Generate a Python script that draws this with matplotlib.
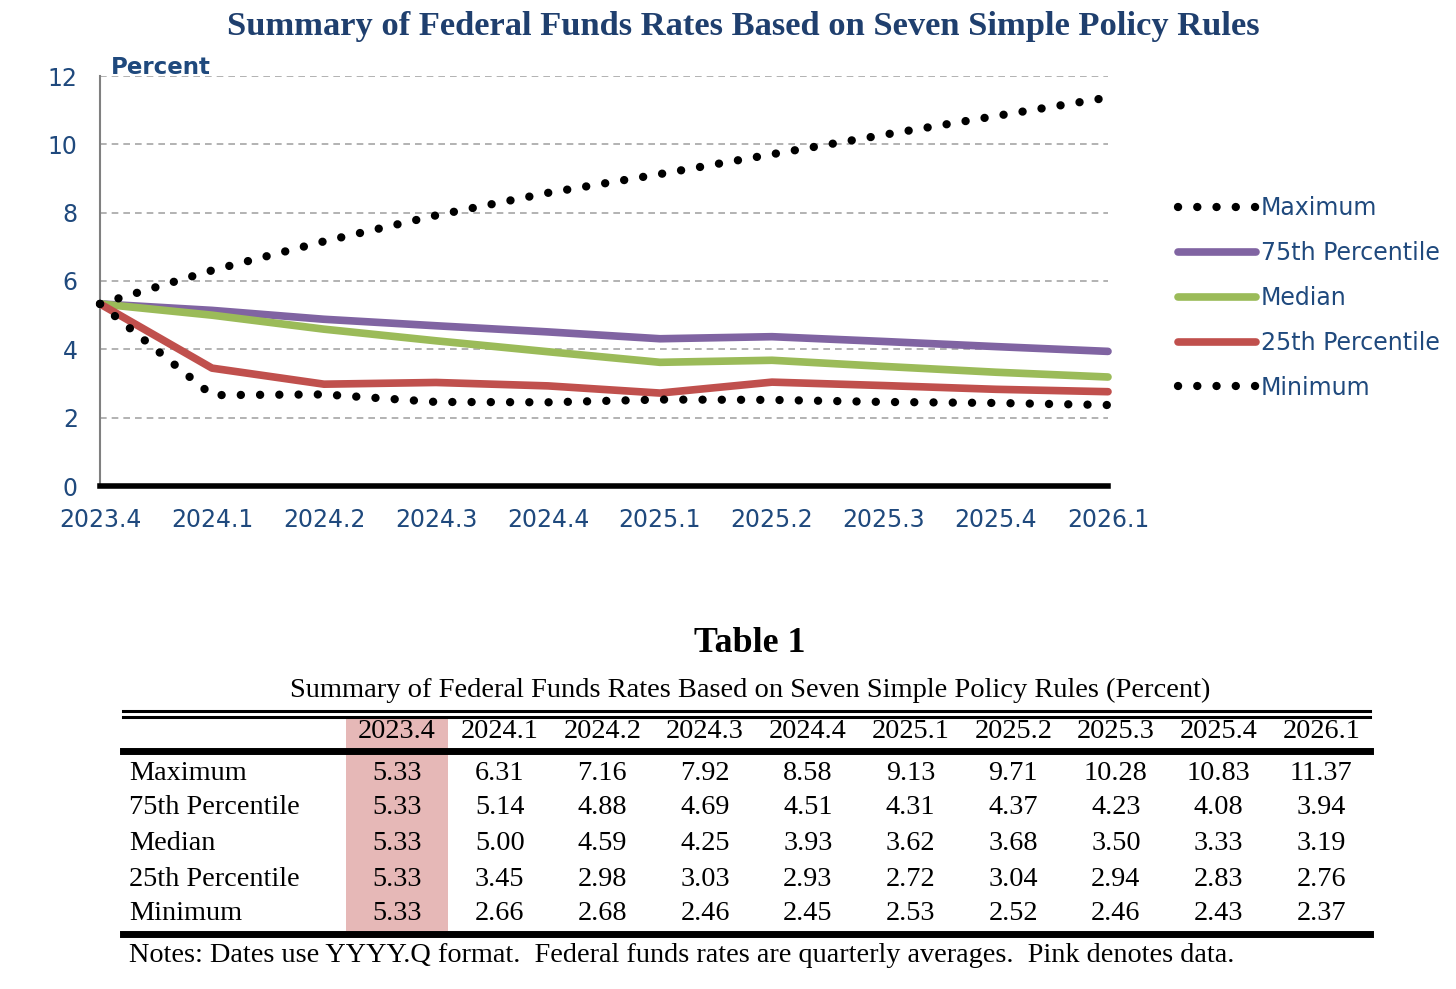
import matplotlib
matplotlib.use("Agg")
import matplotlib.pyplot as plt
from matplotlib.lines import Line2D
from matplotlib.patches import Rectangle

quarters = ["2023.4", "2024.1", "2024.2", "2024.3", "2024.4",
            "2025.1", "2025.2", "2025.3", "2025.4", "2026.1"]
maximum = [5.33, 6.31, 7.16, 7.92, 8.58, 9.13, 9.71, 10.28, 10.83, 11.37]
p75 = [5.33, 5.14, 4.88, 4.69, 4.51, 4.31, 4.37, 4.23, 4.08, 3.94]
median = [5.33, 5.00, 4.59, 4.25, 3.93, 3.62, 3.68, 3.50, 3.33, 3.19]
p25 = [5.33, 3.45, 2.98, 3.03, 2.93, 2.72, 3.04, 2.94, 2.83, 2.76]
minimum = [5.33, 2.66, 2.68, 2.46, 2.45, 2.53, 2.52, 2.46, 2.43, 2.37]
row_names = ["Maximum", "75th Percentile", "Median", "25th Percentile", "Minimum"]
rows = [maximum, p75, median, p25, minimum]

NAVY = "#1F497D"
TITLE = "#1F3F6E"
SANS = "DejaVu Sans"
SERIF = "Liberation Serif"
TFS = 20.3  # table font size

W, H = 1456, 989
fig = plt.figure(figsize=(W / 100, H / 100), dpi=100)


def fx(px):
    return px / W


def fy(py):
    return 1 - py / H


ax = fig.add_axes([fx(100), fy(486), fx(1108) - fx(100), fy(76) - fy(486)])
x = list(range(len(quarters)))
dots = (0, (0.01, 2.3))
ax.plot(x, p75, color="#8064A2", lw=5.5, solid_capstyle="round", label="75th Percentile", zorder=3)
ax.plot(x, median, color="#9BBB59", lw=5.5, solid_capstyle="round", label="Median", zorder=3)
ax.plot(x, p25, color="#C0504D", lw=5.5, solid_capstyle="round", label="25th Percentile", zorder=3)
ax.plot(x, maximum, color="black", lw=6, ls=dots, dash_capstyle="round", label="Maximum", zorder=4)
ax.plot(x, minimum, color="black", lw=6, ls=dots, dash_capstyle="round", label="Minimum", zorder=4)
for ln in ax.lines:
    ln.set_clip_on(False)

ax.set_xlim(0, 9)
ax.set_ylim(0, 12)
ax.set_yticks(range(0, 13, 2))
ax.set_xticks(x)
ax.set_xticklabels(quarters)
ax.tick_params(length=0, labelsize=17, labelcolor=NAVY)
ax.tick_params(axis="x", pad=16)
ax.tick_params(axis="y", pad=16)
for lbl in ax.get_xticklabels() + ax.get_yticklabels():
    lbl.set_family(SANS)
ax.yaxis.grid(True, ls=(0, (4, 3)), color="#A6A6A6", lw=1.2)
ax.set_axisbelow(True)
for s in ["top", "right"]:
    ax.spines[s].set_visible(False)
ax.spines["left"].set_color("#808080")
ax.spines["left"].set_linewidth(1.5)
ax.spines["bottom"].set_color("black")
ax.spines["bottom"].set_linewidth(4)

fig.text(fx(111), fy(67), "Percent", fontsize=16.5, fontweight="bold", color=NAVY,
         family=SANS, va="center", ha="left")
fig.text(fx(743), fy(27), "Summary of Federal Funds Rates Based on Seven Simple Policy Rules",
         fontsize=24.8, fontweight="bold", color=TITLE, family=SERIF, ha="center", va="center")

h, l = ax.get_legend_handles_labels()
order = [3, 0, 1, 2, 4]
leg = fig.legend([h[i] for i in order], [l[i] for i in order], loc="center left",
                 bbox_to_anchor=(fx(1178), fy(298)), frameon=False, fontsize=17,
                 handlelength=3.3, handletextpad=0.22, labelspacing=0.88,
                 borderpad=0, borderaxespad=0)
for t in leg.get_texts():
    t.set_color(NAVY)
    t.set_family(SANS)

# Table 1
fig.text(fx(750), fy(643), "Table 1", fontsize=25.8, fontweight="bold", family=SERIF,
         ha="center", va="center")
fig.text(fx(750), fy(690),
         "Summary of Federal Funds Rates Based on Seven Simple Policy Rules (Percent)",
         fontsize=20.5, family=SERIF, ha="center", va="center")

col_x = [397 + 102.7 * i for i in range(len(quarters))]
fig.add_artist(Rectangle((fx(346), fy(931)), fx(448) - fx(346), fy(718) - fy(931),
                         transform=fig.transFigure, color="#E6B8B7", lw=0, zorder=0))
for yy, lw in [(711, 2.2), (716.5, 2.2), (751, 5), (934, 5)]:
    fig.add_artist(Line2D([fx(123), fx(1370)], [fy(yy), fy(yy)], transform=fig.transFigure,
                          color="black", lw=lw))

for cx, q in zip(col_x, quarters):
    fig.text(fx(cx), fy(732), q, fontsize=TFS, family=SERIF, ha="center", va="center")
row_y = [773, 808, 844, 879, 914]
for ry, name, vals in zip(row_y, row_names, rows):
    fig.text(fx(129), fy(ry), name, fontsize=TFS, family=SERIF, ha="left", va="center")
    for cx, v in zip(col_x, vals):
        fig.text(fx(cx), fy(ry), f"{v:.2f}", fontsize=TFS, family=SERIF,
                 ha="center", va="center")

fig.text(fx(129), fy(955),
         "Notes: Dates use YYYY.Q format.  Federal funds rates are quarterly averages.  Pink denotes data.",
         fontsize=TFS, family=SERIF, ha="left", va="center")

fig.savefig("out.png", dpi=100)
